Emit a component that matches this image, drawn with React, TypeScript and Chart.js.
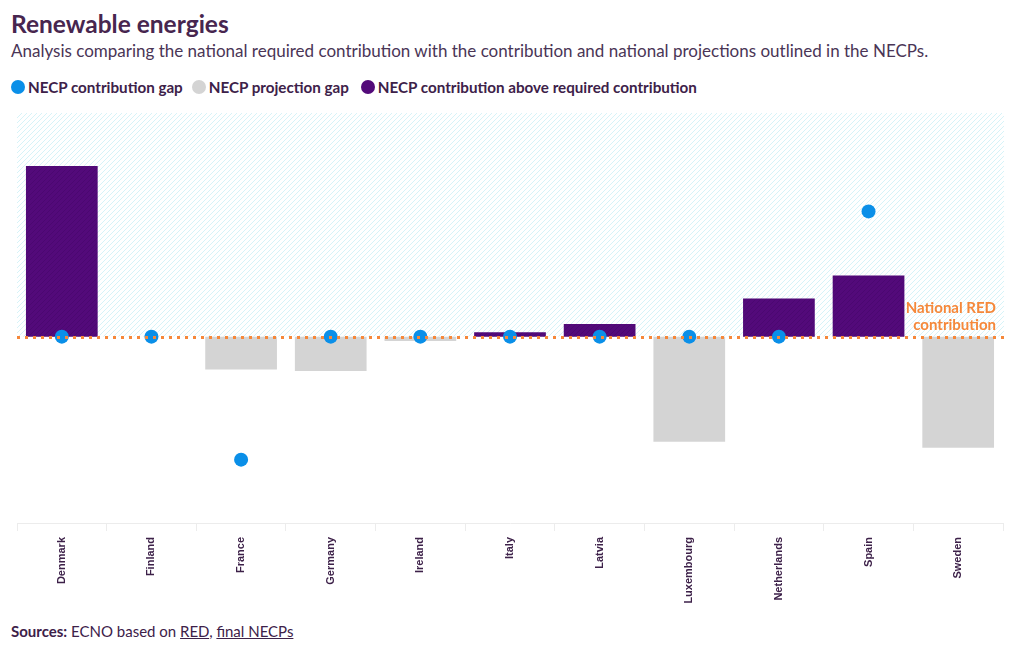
import React, { useEffect, useRef } from "react";
import { Chart, registerables } from "chart.js";

Chart.register(...registerables);

const categories = ["Denmark", "Finland", "France", "Germany", "Ireland", "Italy", "Latvia", "Luxembourg", "Netherlands", "Spain", "Sweden"];
const contributionGap = [0, 0, -16.5, 0, 0, 0, 0, 0, 0, 16.8, null];
const projectionGap = [null, null, -4.4, -4.6, -0.6, null, null, -14.1, null, null, -14.9];
const aboveRequired = [22.9, null, null, null, null, 0.6, 1.7, null, 5.1, 8.2, null];
const yMin = -25;
const yMax = 30;
const referenceLevel = 0;
const referenceLabel = ["National RED", "contribution"];

const BLUE = "#0a8fe8";
const GRAY = "#d4d4d4";
const PURPLE = "#530a7a";
const ORANGE = "#f5883a";
const TEXT = "#3d2149";
const FONT = "Lato, 'Noto Sans', sans-serif";

function makePattern(bg: string, line: string, size: number, width: number) {
  const c = document.createElement("canvas");
  c.width = size;
  c.height = size;
  const g = c.getContext("2d")!;
  g.fillStyle = bg;
  g.fillRect(0, 0, size, size);
  g.strokeStyle = line;
  g.lineWidth = width;
  g.beginPath();
  g.moveTo(0, size);
  g.lineTo(size, 0);
  g.moveTo(-size / 2, size / 2);
  g.lineTo(size / 2, -size / 2);
  g.moveTo(size / 2, size * 1.5);
  g.lineTo(size * 1.5, size / 2);
  g.stroke();
  return g.createPattern(c, "repeat")!;
}

export default function App() {
  const ref = useRef<HTMLCanvasElement | null>(null);

  useEffect(() => {
    document.body.style.margin = "0";
    const canvas = ref.current!;
    const bgPattern = makePattern("#ffffff", "#d6f3f8", 5, 1);
    const barPattern = makePattern(PURPLE, "#4a0870", 5, 1);

    const refPlugin = {
      id: "refPlugin",
      beforeDatasetsDraw(chart: any) {
        const { ctx, chartArea, scales } = chart;
        const y0 = scales.y.getPixelForValue(referenceLevel);
        ctx.save();
        ctx.fillStyle = bgPattern;
        ctx.fillRect(chartArea.left, chartArea.top, chartArea.right - chartArea.left + 1, y0 - chartArea.top);
        ctx.restore();
      },
      afterDatasetsDraw(chart: any) {
        const { ctx, chartArea, scales } = chart;
        const y0 = Math.round(scales.y.getPixelForValue(referenceLevel)) + 0.5;
        ctx.save();
        ctx.strokeStyle = ORANGE;
        ctx.lineWidth = 3;
        ctx.lineCap = "butt";
        ctx.setLineDash([3, 5]);
        ctx.beginPath();
        ctx.moveTo(Math.round(chartArea.left), y0);
        ctx.lineTo(chartArea.right + 1, y0);
        ctx.stroke();
        ctx.setLineDash([]);
        ctx.fillStyle = ORANGE;
        ctx.font = `bold 15px ${FONT}`;
        ctx.textAlign = "right";
        ctx.textBaseline = "middle";
        ctx.fillText(referenceLabel[0], chartArea.right - 7, y0 - 29);
        ctx.fillText(referenceLabel[1], chartArea.right - 7, y0 - 12);
        ctx.restore();
      },
    };

    const chart = new Chart(canvas, {
      type: "bar",
      data: {
        labels: categories,
        datasets: [
          {
            type: "line",
            label: "NECP contribution gap",
            data: contributionGap,
            showLine: false,
            pointRadius: 7,
            pointHoverRadius: 7,
            pointBackgroundColor: BLUE,
            pointBorderColor: BLUE,
            pointBorderWidth: 0,
            backgroundColor: BLUE,
            borderColor: BLUE,
          } as any,
          {
            type: "bar",
            label: "NECP projection gap",
            data: projectionGap,
            backgroundColor: GRAY,
            grouped: false,
            barPercentage: 1,
            categoryPercentage: 0.8,
          } as any,
          {
            type: "bar",
            label: "NECP contribution above required contribution",
            data: aboveRequired,
            backgroundColor: barPattern,
            grouped: false,
            barPercentage: 1,
            categoryPercentage: 0.8,
          } as any,
        ],
      },
      options: {
        animation: false,
        responsive: false,
        maintainAspectRatio: false,
        layout: { padding: { top: 13, left: 17, right: 17, bottom: 0 } },
        plugins: {
          legend: { display: false },
          tooltip: { enabled: false },
        },
        scales: {
          x: {
            grid: {
              drawOnChartArea: false,
              drawTicks: true,
              tickLength: 8,
              color: "#ececec",
            },
            border: { display: true, color: "#ececec" },
            ticks: {
              maxRotation: 90,
              minRotation: 90,
              autoSkip: false,
              padding: 6,
              color: TEXT,
              font: { family: "'Liberation Sans', Arial, sans-serif", size: 11, weight: "bold" },
            },
            afterFit(scale: any) {
              scale.height = 97;
            },
          },
          y: {
            display: false,
            min: yMin,
            max: yMax,
          },
        },
      },
      plugins: [refPlugin],
    });
    return () => chart.destroy();
  }, []);

  const legendItems = [
    { label: "NECP contribution gap", color: BLUE, gap: 9 },
    { label: "NECP projection gap", color: GRAY, gap: 12 },
    { label: "NECP contribution above required contribution", color: PURPLE, gap: 0 },
  ];

  return (
    <div style={{ position: "absolute", left: 0, top: 0, width: 1020, height: 650, background: "#fff", fontFamily: FONT, color: TEXT }}>
      <div style={{ position: "absolute", left: 11, top: 10, fontSize: 24.5, fontWeight: 700, lineHeight: "28px", color: "#47264f", whiteSpace: "nowrap" }}>
        Renewable energies
      </div>
      <div style={{ position: "absolute", left: 11, top: 41, fontSize: 17, lineHeight: "20px", color: "#4a3556", whiteSpace: "nowrap" }}>
        Analysis comparing the national required contribution with the contribution and national projections outlined in the NECPs.
      </div>
      <div style={{ position: "absolute", left: 11, top: 77, height: 20, display: "flex", alignItems: "center", whiteSpace: "nowrap" }}>
        {legendItems.map((it) => (
          <div key={it.label} style={{ display: "flex", alignItems: "center", marginRight: it.gap }}>
            <span style={{ display: "inline-block", width: 14, height: 14, borderRadius: 7, background: it.color, marginRight: 3 }} />
            <span style={{ fontSize: 15.2, fontWeight: 700, lineHeight: "20px", color: TEXT }}>{it.label}</span>
          </div>
        ))}
      </div>
      <canvas ref={ref} width={1020} height={520} style={{ position: "absolute", left: 0, top: 100, width: 1020, height: 520 }} />
      <div style={{ position: "absolute", left: 11, top: 621, fontSize: 15, lineHeight: "20px", color: TEXT, whiteSpace: "nowrap" }}>
        <b>Sources:</b> ECNO based on <span style={{ textDecoration: "underline" }}>RED</span>,{" "}
        <span style={{ textDecoration: "underline" }}>final NECPs</span>
      </div>
    </div>
  );
}
